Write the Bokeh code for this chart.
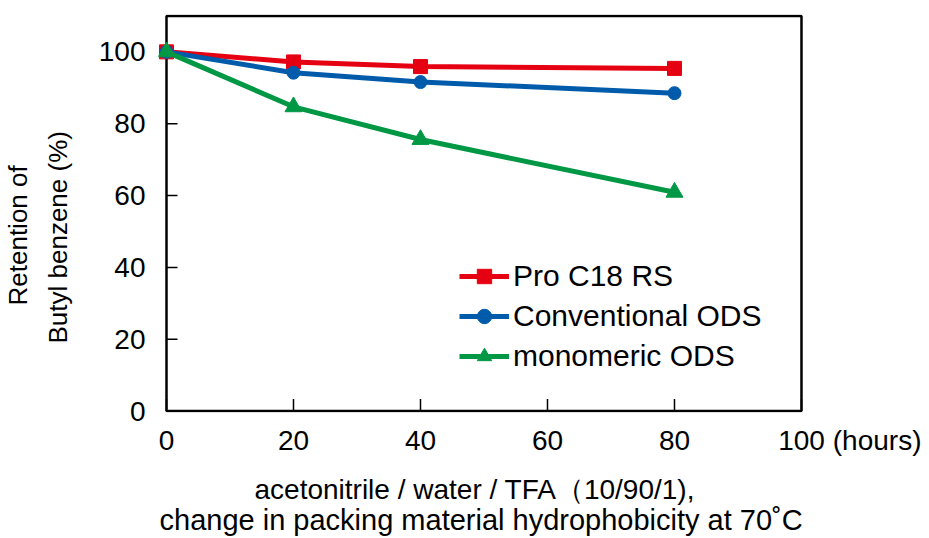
from bokeh.plotting import figure
from bokeh.models import Range1d, FixedTicker, Legend, Title
from bokeh.embed import file_html
from bokeh.resources import INLINE

# ---- data ----
hours = [0, 20, 40, 80]
pro_c18 = [100.0, 97.2, 95.9, 95.4]
conventional = [100.0, 94.2, 91.6, 88.5]
monomeric = [100.0, 84.7, 75.6, 60.9]

series_names = ["Pro C18 RS", "Conventional ODS", "monomeric ODS"]
series_colors = ["#E50012", "#005BAB", "#009844"]

x_ticks = [0, 20, 40, 60, 80, 100]
y_ticks = [0, 20, 40, 60, 80, 100]
x_tick_labels = ["0", "20", "40", "60", "80", "100"]
y_tick_labels = ["0", "20", "40", "60", "80", "100"]
x_unit_label = "(hours)"
x_unit_pos = 112

x_title = ["acetonitrile / water / TFA\uff0810/90/1),",
           "change in packing material hydrophobicity at 70\u02daC"]
y_title = ["Retention of", "Butyl benzene (%)"]

X_MIN, X_MAX = 0, 100
Y_MIN, Y_MAX = 0, 110

FONT = "Liberation Sans"
W, H = 921, 536

p = figure(width=W, height=H, output_backend="svg", toolbar_location=None,
           x_range=Range1d(-1.26, 118.9), y_range=Range1d(-0.4, 110.4),
           min_border_left=158, min_border_right=0,
           min_border_top=14, min_border_bottom=H - 412)
p.outline_line_color = None
p.xgrid.visible = False
p.ygrid.visible = False
p.background_fill_color = "white"
p.border_fill_color = "white"

# frame box
p.quad(left=[X_MIN], right=[X_MAX], bottom=[Y_MIN], top=[Y_MAX],
       fill_color=None, line_color="black", line_width=2.5)

# inward ticks
ty = 12 / 3.6
tx = 11 / 6.35
p.segment(x0=[X_MIN] * len(y_ticks), x1=[X_MIN + tx] * len(y_ticks),
          y0=y_ticks, y1=y_ticks, line_color="black", line_width=1.5)
p.segment(x0=x_ticks, x1=x_ticks, y0=[Y_MIN] * len(x_ticks),
          y1=[Y_MIN + ty] * len(x_ticks), line_color="black", line_width=1.5)

# axes
xa = p.xaxis[0]
xa.ticker = FixedTicker(ticks=x_ticks + [x_unit_pos])
ov = {t: l for t, l in zip(x_ticks, x_tick_labels)}
ov[x_unit_pos] = x_unit_label
xa.major_label_overrides = ov
xa.axis_line_color = None
xa.major_tick_line_color = None
xa.major_tick_in = 0
xa.major_tick_out = 0
xa.minor_tick_line_color = None
xa.major_label_text_font = FONT
xa.major_label_text_font_size = "28px"
xa.major_label_text_color = "black"
xa.major_label_standoff = 12

ya = p.yaxis[0]
ya.ticker = FixedTicker(ticks=y_ticks)
ya.major_label_overrides = {t: l for t, l in zip(y_ticks, y_tick_labels)}
ya.axis_line_color = None
ya.major_tick_line_color = None
ya.major_tick_in = 0
ya.major_tick_out = 0
ya.minor_tick_line_color = None
ya.major_label_text_font = FONT
ya.major_label_text_font_size = "28px"
ya.major_label_text_color = "black"
ya.major_label_standoff = 13

# series
series = [pro_c18, conventional, monomeric]
markers = ["square", "circle", "triangle"]
msizes = [14, 13, 17]
items = []
for name, vals, col, mk, ms in zip(series_names, series, series_colors, markers, msizes):
    r1 = p.line(hours, vals, line_color=col, line_width=5)
    r2 = p.scatter(hours, vals, marker=mk, size=ms, fill_color=col, line_color=col)
    items.append((name, [r1, r2]))

legend = Legend(items=items, location=(301, 38))
legend.background_fill_alpha = 0
legend.border_line_color = None
legend.glyph_width = 50
legend.glyph_height = 36
legend.label_height = 36
legend.spacing = 4
legend.padding = 0
legend.margin = 0
legend.label_standoff = 4
legend.label_text_font = FONT
legend.label_text_font_size = "30px"
legend.label_text_color = "black"
legend.label_text_baseline = "middle"
p.add_layout(legend, "center")

# x-axis title (two lines, below)
p.add_layout(Title(text=x_title[0], align="left", offset=96, standoff=27,
                   text_font=FONT, text_font_size="28px", text_font_style="normal",
                   text_color="black"), "below")
p.add_layout(Title(text=x_title[1], align="left", offset=1, standoff=-34,
                   text_font=FONT, text_font_size="29px", text_font_style="normal",
                   text_color="black"), "below")

# y-axis title (two lines, left)
p.add_layout(Title(text=y_title[1], align="left", offset=69, standoff=46,
                   text_font=FONT, text_font_size="26px", text_font_style="normal",
                   text_color="black"), "left")
p.add_layout(Title(text=y_title[0], align="left", offset=107, standoff=-31,
                   text_font=FONT, text_font_size="26px", text_font_style="normal",
                   text_color="black"), "left")

open("out.html", "w").write(file_html(p, INLINE))
